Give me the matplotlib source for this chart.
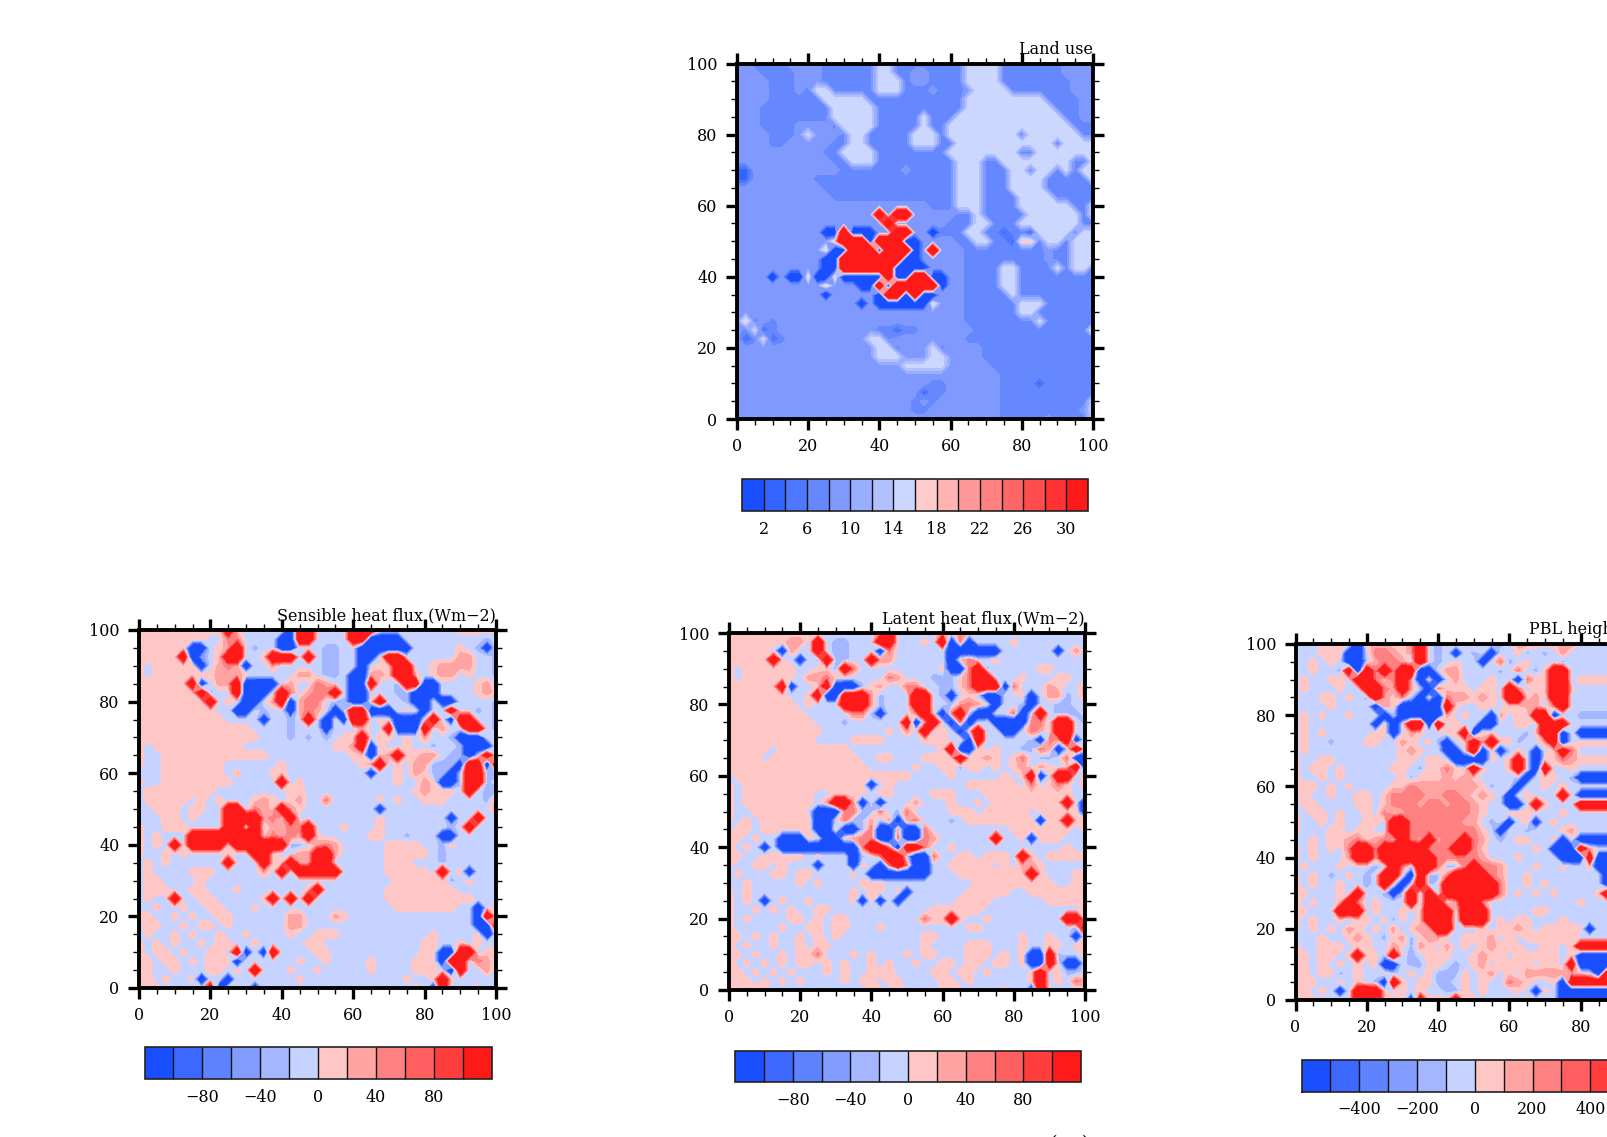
import numpy as np
import matplotlib
matplotlib.use('Agg')
import matplotlib.pyplot as plt

plt.rcParams['font.family'] = ['DejaVu Serif']

# Colours of the two colour tables (blue to red)
colors_16 = ['#1a4fff', '#3364ff', '#4d78ff', '#6688ff', '#8099ff', '#99aeff', '#b3c0ff', '#ccd7ff',
             '#ffcccc', '#ffb3b3', '#ff9999', '#ff8080', '#ff6666', '#ff4d4d', '#ff3333', '#ff1a1a']
colors_12 = ['#1a4fff', '#3d68ff', '#5f82ff', '#839cff', '#a3b6ff', '#c6d2ff',
             '#ffc6c6', '#ffa3a3', '#ff8080', '#ff5f5f', '#ff3d3d', '#ff1a1a']

# Contour levels
levels_land = [-100, 2, 4, 6, 8, 10, 12, 14, 16, 18, 20, 22, 24, 26, 28, 30, 100]
levels_flux = [-1000, -100, -80, -60, -40, -20, 0, 20, 40, 60, 80, 100, 1000]
levels_pbl = [-5000, -500, -400, -300, -200, -100, 0, 100, 200, 300, 400, 500, 5000]

# Colour bar ticks and labels
ticks_land = [2, 6, 10, 14, 18, 22, 26, 30]
labels_land = ['2', '6', '10', '14', '18', '22', '26', '30']
ticks_flux = [-80, -40, 0, 40, 80]
labels_flux = ['\u221280', '\u221240', '0', '40', '80']
ticks_pbl = [-400, -200, 0, 200, 400]
labels_pbl = ['\u2212400', '\u2212200', '0', '200', '400']

# What each letter of the grids below stands for
land_values = {'D': -6, '2': 3, '3': 5, '4': 7, '5': 9, 'L': 15, 'p': 17, 'R': 50}
flux_values = {'B': -200, 'b': -60, 'm': -30, '-': -10, '+': 10, 'p': 30, 'r': 50, 'R': 200}
pbl_values = {k: v * 5 for k, v in flux_values.items()}

# Fields on a grid of 2.5 units, from y=100 down to y=0
land_rows = [
    "5544 4455 5544 4444 LL44 4444 44LL LL44 4444 4555 5",
    "5554 4445 5544 4444 LL44 5544 44LL LL44 4444 4555 5",
    "5555 4445 5544 4444 LLL4 5544 44LL LL44 4444 4455 5",
    "5555 4445 4LL4 4444 LLL4 4454 445L LLL4 4444 4455 5",
    "5555 4444 44LL LLL4 4444 4444 44LL LLLL LLL4 4445 5",
    "5554 4444 444L LLLL 4444 4444 44LL LLLL LLLL 4445 5",
    "5554 4444 444L LLLL 4444 4L44 4LLL LLLL LLLL L445 5",
    "5554 4445 5554 LLLL 4444 4L44 LLLL LLLL LLLL LL44 4",
    "5555 4445 L555 4LL4 4444 LLL4 LLLL LLLL 4LLL LLL4 4",
    "5555 4455 5554 4LL4 4444 LLL4 4LLL LLLL LLLL 4LLL L",
    "5555 5555 5544 LLLL 4444 4444 LLLL LLLL 44LL LLLL L",
    "5555 5555 5554 4LLL 4444 4444 4LLL 44LL LLLL LL44 L",
    "2255 5555 5555 4444 4445 4444 4LLL 444L L4LL 4L4L L",
    "2255 5555 5444 4444 4444 4444 4LLL 444L LLL4 4444 L",
    "5555 5555 5544 4444 4444 4444 4LLL 444L LLL4 4444 4",
    "5555 5555 5554 4444 4444 4444 4LLL 4444 LLLL 4444 4",
    "5555 5555 5555 5555 5555 5544 4LLL 4444 LLLL LL44 L",
    "5555 5555 5555 5555 R5RR 5555 544L 4444 4LLL LLL4 L",
    "5555 5555 5555 5555 5R55 5555 444L L444 LLLL LLL4 4",
    "5555 5555 55DD RDDD 55RR 55D4 44LL 4424 42LL LL4L L",
    "5555 5555 555p RRRD RRRD D555 544L L442 pp4L L4LL L",
    "5555 5555 55pD DRRR DRRR D5R5 5544 4444 4445 44LL L",
    "5555 5555 55DD RRRR RRRD D555 5544 4444 4445 44LL L",
    "5555 5555 55DD RRRR RRDD DD55 5544 44LL 4444 L4LL 4",
    "5555 D5DD pDDp DDDD DRDD RRDD 5544 44LL 4444 4444 4",
    "5555 5555 55p5 55DD RDRR RRRD 5544 44LL 4444 4444 4",
    "5555 5555 55D5 5555 DRRD RDD5 5544 444L 4444 4444 4",
    "5555 5555 5555 55D5 DDDD DDp5 5544 4444 LLL4 4444 4",
    "5555 5555 5555 5555 5555 5555 5544 4444 LL44 4444 4",
    "5p45 4555 5555 5555 5555 5555 5544 4444 44L4 4444 4",
    "54L2 4555 5555 5555 4424 4555 5554 4444 4444 4444 p",
    "524L 2455 5555 555L L455 5555 5544 4444 4444 4444 4",
    "5555 5555 5555 5555 LL45 55L4 5555 4444 4444 4444 4",
    "5555 5555 5555 5555 LLL5 55LL 5555 4444 4444 4444 4",
    "5555 5555 5555 5555 555L LLLL 5555 5444 4444 4444 4",
    "5555 5555 5555 5555 5555 5555 5555 5544 4444 4444 4",
    "5555 5555 5555 5555 5555 5544 5555 5544 4424 4444 4",
    "5555 5555 5555 5555 5555 5244 5555 5544 4444 4444 4",
    "5555 5555 5555 5555 5555 4545 5555 5544 4444 4444 L",
    "5555 5555 5555 5555 5555 4455 5555 5544 4444 4445 L",
    "5555 5555 5555 5555 5555 5555 4555 5544 4445 4444 L",
]

sensible_rows = [
    "++++ ++++ ++R+ ---- -BRR ---- RRR+ ---- ---- ++++ +",
    "++++ ++++ --rr ---- BBRR ---- RRBB BB-- ---- ---m -",
    "++++ ++BB -+pR -m-- BB-- -mm- -BBB BBB- ---- +-mB -",
    "++++ +RBb -+RR --+R RR-R -mm- -BB- RR-- ---- pp-- m",
    "+-++ +++B -prp B--p ---- -mm- -B-+ +RR- -+pp pp-- m",
    "+-++ ++++ +ppp +--- --pp -mm- BBpp +RR+ -+pp -+-- m",
    "++++ ++RB -ppR BBBB -p-- rp-- BBR- -mRR BB-- --+p -",
    "++++ +++R m--R BBB- Rr-p rrR- BB-- -mmB BB-- --+p +",
    "++++ ++++ R-+- BB-p RBpr r-mm BB+R --mB B-BB ---- m",
    "++++ ++++ +--B B-m- -Bpr p-Bm RRBB B-+- B--R --m- m",
    "++++ ++++ ++-- --B- -m-R -B-B RR-+ -BBB -R-B RR-- m",
    "++++ ++++ ++++ +--- -m-- -B-- -p-- RBBB R-p- -RR- m",
    "++++ ++++ ++++ ++-- -m-m -m-+ +R-+ +-+- p--m BBB- -",
    "+-++ ++++ ++++ ---- ---- --++ pRB+ --+- -m-- mBBB -",
    "+--+ ++++ ++++ +++- ---- ---- ++B+ pR++ pp-m mBmR -",
    "+--+ ++++ ++-- ---- +--- ---- -+pR -+-p pmmm BRRB R",
    "---+ ++++ ++-+ ---+ +--- ---- --B- -+-p +mmB mRRm m",
    "+--+ ++++ +++- ---- R-+- ---- ---- -+-- p+BB mRRm -",
    "-+++ ++++ +--- ---- -++- ---- ---- ---+ p+++ -R-m m",
    "-+++ ++-+ -+-- -+p+ -+p- -r-- ---+ -+-- +++- ---m p",
    "--++ +-++ --RR -rp+ Rp+- ---- ---B ---- ---- ---- p",
    "---+ +-+- --RR RRpr +R-- ---- ---+ ---- ---B --R- -",
    "+--+ ++-- --RR -R-p prrR ---+ ---+ ---- ---m -R-- -",
    "+-+- --RR RRRR RR+r prpR +--- --++ --m- --BB ---- -",
    "+-+- R-RR RR+R RRRR Rmm- prp- ---- ++++ --m+ ---- -",
    "+--+ -+-- --+- -RR+ --pp RRp- ---- ++++ +-m- ---- -",
    "-+-+ ---- --R- --R+ +Rpp RR-- ---- +++- --m- ---- -",
    "-+-- --++ +--- --p- R-RR RRR- ---- ++++ +-R- +B-- -",
    "-++- ---+ ---- ---- ---- ---- ---- -+++ +++m -+-- -",
    "-+++ --++ ---+ ---- ---+ R--- ---- ++++ ++++ ---- -",
    "-+-- R--+ +--- --+R -R-R ---- ---- ++++ ++++ ++-- -",
    "--+- -+-- ++-- -+-- ---- ---- ---- -+++ ++++ --B- +",
    "++-- +-+- -++- ---- -pp- --p+ ---- ---- ---- --BR +",
    "-++- -+-+ +-+- ---- -pp- ---- ---- ---- ---- --BB R",
    "-+-- +-+- -+-- +--- -+-- +++- ---- ---- -+-- --+B -",
    "+-+- +--+ -++- -+-- ---+ +--- ---- ---- ++-- +-+- -",
    "+-++ -+-- ++-R B-BR ---- ++-- ---- ---- ++BB RR-+ +",
    "++-+ +-+- +++B ---- --+- -+-- --+- ---+ ++BR R-rp -",
    "++-- +--- ++-+ -R-- -+-- +--- --+- ---+ ++-B R--p -",
    "++-+ --+B --B- ---- --+- ---- ---- --+- -+R+ ---- -",
    "+++- ---- RB-- -B-- ---- ---- ---- ---+ -BR- --+- +",
]

latent_rows = [
    "++++ ++++ ++-- ---- -rR- ---- r-r+ ---- ---- ---- -",
    "++++ +++p p-R- mm-- -RR- --+- RBrB ---- +--- ---- -",
    "++++ +-Bp --R- mm-- -Br- ---- -BBB BBB- ---- -B-p -",
    "++++ +R+- B-mR mm-- Rpp- ---- -B+r --+- ---- ---- -",
    "+-++ ++++ --++ mRr- ---- ---- +BBr Rm-- ---+ +--- -",
    "+-++ ++++ -ppr +--- --rp ---m mm+r RR-- -+-- -++- -",
    "++++ ++RB --+R BBBm +p-- rr-- mm+r RRRB r--- p+-- p",
    "++++ +++- -+RB BRRR pm-- -RR- mB-+ mBB- -+B- ppm- p",
    "++++ ++++ -+-- -RRR pm-- -RR- -mpr p-B- -mB- -mm- -",
    "++++ ++++ +--- --rr mB-- -rR- BrRm BB-- rB-R -mmm -",
    "++++ ++++ ++-- -m-- ---- RBpR -BrB m-BB BBrr -RR- m",
    "++++ ++++ +++- ---- --+- p-R- +-B+ R--B B-rp -RR- -",
    "++++ ++++ ++-- --++ ++-- --++ +-+B R--- --mB rpRB -",
    "++++ +-++ ++++ ++-- ---- ---- +RBB +-+- -mmr pBmR -",
    "++++ -+++ ++++ +++- -++- --++ ++R+ +p+- +r-m m-rB B",
    "++++ ++++ ++++ ++++ ---- -+-- ++m+ +-+- +p-p +-+R B",
    "-+++ ++++ ++++ ++++ ++++ +--- -+-- ---+ -+RB -RR- +",
    "+-++ ++++ ++++ ++++ B-+- ---- ---+ ++++ +-r- +r+- +",
    "+-++ ++++ ++-- ++++ -++- ---+ ++-- -+++ ++++ +++- -",
    "+-++ ++++ ++-p RRpB -B-- -p-- -+-- +-++ ++++ ++R- B",
    "+--+ ++++ +-BB Brrm mr-m r--- -+++ -+++ ++-+ ++++ B",
    "+-+- ++++ ++BB -rmm pmpB pr-- -m-+ ++++ +++B ++R+ +",
    "-++- ++++ ++BB +BBm rBBp BBr- ---- ---- ++++ +++- +",
    "++-+ --BB B+-B B+pr rBBr BBrp ---- --R- -+B+ ++-- -",
    "+-+- B-BB BBBB BBBr RRrB RRr- -+-- ---- ---- --+- -",
    "++-- ++++ +-+- --Bm -rRR mBBr --++ -+++ -R+- ++++ +",
    "+--+ +-+- --B- --B+ -BrR rBB- -+++ ++-+ -pp+ ---- -",
    "-+-- -++- ++-- --+- BBBB BBB- --++ ++++ ++R+ ---+ +",
    "--+- ---- +-+- ---+ ++-- ---- ---- ++++ ++++ +--+ +",
    "+-+- ---- ---- --+- ++-+ B--- ---+ ++++ --++ ++++ +",
    "+-+- B-+- -+-- --+B +B-B ---- --++ ++-- ---- ++++ +",
    "+--+ -+-+ --++ ---- ---- ---+ ++++ +--- ---- ---- +",
    "+-+- ---+ +-+- ++-- ---- --r+ +R+- -+-- ---- --RR +",
    "+--- --+- -++- ++-- -+-- ---- ---+ +--- ---- ---m R",
    "++-+ -+-- +-+- +--- ---- --++ ---- ---- -+-- +--B +",
    "+-+- -+-- +-++ ---- ---- --+- ---+ ++-- -+-- ++-+ +",
    "++-+ --+- ++r- --+- +--- +-++ ---+ ++-+ -+BB Rm-- +",
    "+-+- +-+- ++-+ -+-- +-+- -+-- ++-+ +-++ -+BB R-BB -",
    "++-+ -+-+ ---+ -+-- +++- ---+ +-++ -+-- --+R -+mm -",
    "+++- +-+- +--- -+-+ +-++ ---- ++-+ ---- --+R -+-r p",
    "++++ +--- ---- -m-- ++-+ ---- +++- ---+ --BR +--- +",
]

# Only the part up to x=90 of this panel is on the page
pbl_rows = [
    "---+ ++-B +pp+ +pR- m--- +--m -pp+ ++pp -",
    "---+ ++BB -rrp +pR- m-B- m-B- -+m- m-p- -",
    "--+- +-BB mprr p-R- m-+- -B-r m-+- --m- -",
    "--+- -mRB RrRr RRBB -pp- ---m -r-m +RR- -",
    "-+-- ++-R Rr+r RpB- B-p- --+- -Br+ +RR- +",
    "-+-- -+-- RRrp RpmB r+++ -++- Rr-+ +RR+ -",
    "+--+ +-+- mRp+ rmB- Brpp +p+- RR+p -RR- -",
    "---- +--- -Bp+ BBBB BR+- -++- ++pp -rR- -",
    "-+-+ --+- --Bm BBBB Bp-+ --Bp -+-R RBm- m",
    "-+-- ---- -B+B -RRB R-+- -BB- -++- RRR- -",
    "-+-+ ---- -++B -p+- -++R B++- --m+ RRB- B",
    "-+-- m--- ++-- p+-+ mB-+ RpR+ +m-- pRB- +",
    "-+-- ---- ---- +p+- -BB- RB+B m+-B -+Rr -",
    "+--+ +--- ---- ++-+ +-BB BB+- +R-B ++rp +",
    "+-++ -+-- ---+ +-m+ +r+- R+-- +R-B R--+ -",
    "+--+ -+-- ---- +m++ +p+p +--- -mB- ++-m B",
    "+++- +-+- ---+ +rpp pppp p+m- -B-- +-+- -",
    "-+-- +--+ +-+r rrrp prrp +p+- B-+- --R- B",
    "-++- ---+ +-+r rrpr rprr p+-- BB-R +--- R",
    "+-++ -+-- +-r+ prrr rrrr p+-- +++- --+- -",
    "+--+ -+-- ++-R Rrrr rrrp p-m- B-+B -+-- -",
    "+--- ++-+ +--R Rrrr rrrr r+-B --m- --+p -",
    "--+- ++pr +pr+ RrpR prrR rp-m -++- -+B- B",
    "+-+- +-rR RrRR RRRr rrRR r+-- ---+ -BBB Rp--",
    "+-+- --pR RpRR RRRR rrrr rp-- -+-- --BB BRBB B",
    "-+-- -+-- -m-R rmRR rmmr Rrrp ---+ --+- -+BB B",
    "+-+- m-+- m-RR -BRm mrRR RRrp --+- ---- ---B B",
    "+-+- -+-- m-R- B-Rm -RRR RRRr --+- +--- ---B R",
    "++-- -+-R --mB mRmR mRRR RRRr -+-+ -+-- --+R -",
    "+-+- -+Rr -+-- -RmR RmpR Rr-- ---- ---- +--- +",
    "++-- -RRR -+-- +-+R RR-R RR-- ---+ +--- ---- -",
    "+-+- -+m+ +-+m +-+R RRmR RR-+ -++- --+- ---- +",
    "+-+- +-p+ -+-p m+pp RR-- -+-+ +p+- ++++ +B-- -",
    "---+ --+p +-m+ pm+p p--+ ++p- +-++ ++++ -",
    "+--+ ++-+ +--p +mp+ -p-+ -+p+ ++-- ++-+ R",
    "++-+ +-+R ++mR -m-+ ++-- +p++ -+++ ++-+ B",
    "++-+ -+-+ -+BB -mm+ +-m- +p-+ +++- ++-R B",
    "++-+ +m-+ --+m -+-+ mmm+ -+p- +-pp pppp +-BR R",
    "+++- -+-+ -mBR +-++ mm-+ -+-- rp+- -+BR R",
    "++-+ -B-R RR+- +-+- -mm+ -+-- -+-B +-BB B",
    "+++- -+-R RR++ +BR+ ++R+ +--- +-+- --BB B",
]


def decode(rows, values):
    # turn the rows of letters into a field, y=100 is the first row
    rows = [r.replace(' ', '') for r in rows]
    n = max(len(r) for r in rows)
    rows = [r.ljust(n, r[-1]) for r in rows]
    return np.array([[values[c] for c in r] for r in rows], dtype=float)[::-1]


W, H = 1607, 1137
fig = plt.figure(figsize=(W / 100, H / 100), dpi=100)


def rect(x0, x1, y0, y1):
    # pixel box (y from the top) to figure fraction
    return [x0 / W, 1 - y1 / H, (x1 - x0) / W, (y1 - y0) / H]


def panel(field, title, levels, colors, ticks, labels, box, cbox):
    ax = fig.add_axes(rect(*box))
    ny, nx = field.shape
    x = np.arange(nx) * 2.5
    y = np.arange(ny) * 2.5
    cs = ax.contourf(x, y, field, levels=levels, colors=colors)
    ax.set_xlim(0, 100)
    ax.set_ylim(0, 100)
    ax.set_xticks(range(0, 101, 20))
    ax.set_yticks(range(0, 101, 20))
    ax.set_xticks(range(0, 101, 5), minor=True)
    ax.set_yticks(range(0, 101, 5), minor=True)
    ax.tick_params(which='major', length=8, width=2.4, top=True, right=True, labelsize=11.5, pad=6)
    ax.tick_params(which='minor', length=4, width=1.0, top=True, right=True)
    for s in ax.spines.values():
        s.set_linewidth(2.8)
        s.set_clip_on(True)
    ax.set_title(title, loc='right', fontsize=11.5, pad=7)

    cax = fig.add_axes(rect(*cbox))
    cb = fig.colorbar(cs, cax=cax, orientation='horizontal', spacing='uniform', drawedges=True)
    cb.set_ticks(ticks, labels=labels)
    cb.ax.tick_params(length=0, labelsize=11.5, pad=7)
    cb.ax.minorticks_off()
    cb.dividers.set_color('#111111')
    cb.dividers.set_linewidth(1.0)
    cb.outline.set_linewidth(1.2)
    cb.outline.set_edgecolor('#222222')


panel(decode(land_rows, land_values), 'Land use', levels_land, colors_16, ticks_land, labels_land,
      (737, 1093, 63.5, 419), (742, 1088, 479, 511))
panel(decode(sensible_rows, flux_values), 'Sensible heat flux (Wm\u22122)', levels_flux, colors_12, ticks_flux, labels_flux,
      (139, 496, 630, 988), (144.5, 492, 1047, 1079))
panel(decode(latent_rows, flux_values), 'Latent heat flux (Wm\u22122)', levels_flux, colors_12, ticks_flux, labels_flux,
      (729, 1085, 633, 990), (735, 1081, 1050.5, 1082))
panel(decode(pbl_rows, pbl_values), 'PBL height (m)', levels_pbl, colors_12, ticks_pbl, labels_pbl,
      (1295.5, 1652, 644, 1000), (1301.6, 1648, 1060, 1091.5))

# top of the caption that is cut off by the page edge
fig.text(1070 / W, 1 - 1135 / H, '( a )', fontsize=14, ha='center', va='top')

fig.savefig('out.png', dpi=100)
